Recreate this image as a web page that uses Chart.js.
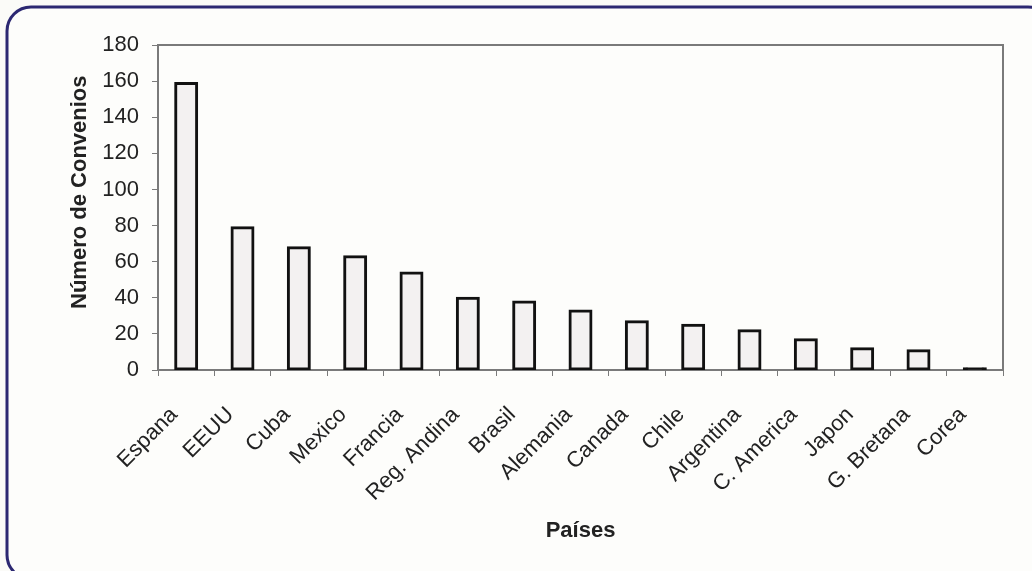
<!DOCTYPE html>
<html>
<head>
<meta charset="utf-8">
<script src="https://cdn.jsdelivr.net/npm/chart.js@4/dist/chart.umd.min.js"></script>
<style>
  html, body { margin: 0; padding: 0; background: #fbfbf8; }
  #wrap { width: 1032px; height: 571px; position: relative; }
</style>
</head>
<body>
<div id="wrap"><canvas id="myChart"></canvas></div>
<script>
// datos
const paises = ["Espana", "EEUU", "Cuba", "Mexico", "Francia", "Reg. Andina", "Brasil",
  "Alemania", "Canada", "Chile", "Argentina", "C. America", "Japon", "G. Bretana", "Corea"];
const convenios = [159, 79, 68, 63, 54, 40, 38, 33, 27, 25, 22, 17, 12, 11, 1];
const yTicks = [0, 20, 40, 60, 80, 100, 120, 140, 160, 180];

// marco redondeado y borde del area de trazado
const frame = {
  id: 'frame',
  beforeDraw(chart) {
    const ctx = chart.ctx;
    ctx.save();
    ctx.fillStyle = '#fdfdfb';
    ctx.strokeStyle = '#2c2872';
    ctx.lineWidth = 3;
    ctx.beginPath();
    ctx.roundRect(7, 7, 1045, 572, 24);
    ctx.fill();
    ctx.stroke();
    ctx.restore();
  },
  afterDatasetsDraw(chart) {
    const a = chart.chartArea;
    const ctx = chart.ctx;
    ctx.save();
    ctx.strokeStyle = '#7a7a7a';
    ctx.lineWidth = 2;
    ctx.beginPath();
    ctx.moveTo(a.left, a.top);
    ctx.lineTo(a.right, a.top);
    ctx.lineTo(a.right, a.bottom);
    ctx.stroke();
    ctx.restore();
  }
};

const ctx = document.getElementById('myChart');
let barChart = new Chart(ctx, {
  type: 'bar',
  data: {
    labels: paises,
    datasets: [{
      data: convenios,
      backgroundColor: c => (c.raw < 3 ? '#111111' : '#f3f1f1'),
      borderColor: '#111111',
      borderWidth: 3,
      borderSkipped: false,
      inflateAmount: 1,
      barPercentage: 0.39,
      categoryPercentage: 1
    }]
  },
  options: {
    responsive: true,
    maintainAspectRatio: false,
    animation: false,
    layout: { padding: { left: 0, right: 29, top: 45, bottom: 0 } },
    plugins: { legend: { display: false }, tooltip: { enabled: false } },
    scales: {
      x: {
        afterFit: s => { s.height = 201; },
        grid: { drawOnChartArea: false, drawTicks: true, tickLength: 6, color: '#7a7a7a', offset: true },
        border: { color: '#7a7a7a', width: 2 },
        ticks: {
          color: '#222', maxRotation: 45, minRotation: 45, padding: 26, labelOffset: -12,
          font: { family: 'Liberation Sans, Arial', size: 22 }
        },
        title: {
          display: true, text: 'Países', color: '#222',
          font: { family: 'Liberation Sans, Arial', size: 22, weight: 'bold' },
          padding: { top: 0, bottom: 27 }
        }
      },
      y: {
        min: 0, max: 180,
        afterFit: s => { s.width = 158; },
        afterBuildTicks: s => { s.ticks = yTicks.map(v => ({ value: v })); },
        grid: { drawOnChartArea: false, drawTicks: true, tickLength: 6, color: '#7a7a7a' },
        border: { color: '#7a7a7a', width: 2 },
        ticks: {
          color: '#222', padding: 13,
          font: { family: 'Liberation Sans, Arial', size: 22 }
        },
        title: {
          display: true, text: '     Número de Convenios', color: '#222',
          font: { family: 'Liberation Sans, Arial', size: 22, weight: 'bold' },
          padding: { top: 67, bottom: 0 }
        }
      }
    }
  },
  plugins: [frame]
});
</script>
</body>
</html>
